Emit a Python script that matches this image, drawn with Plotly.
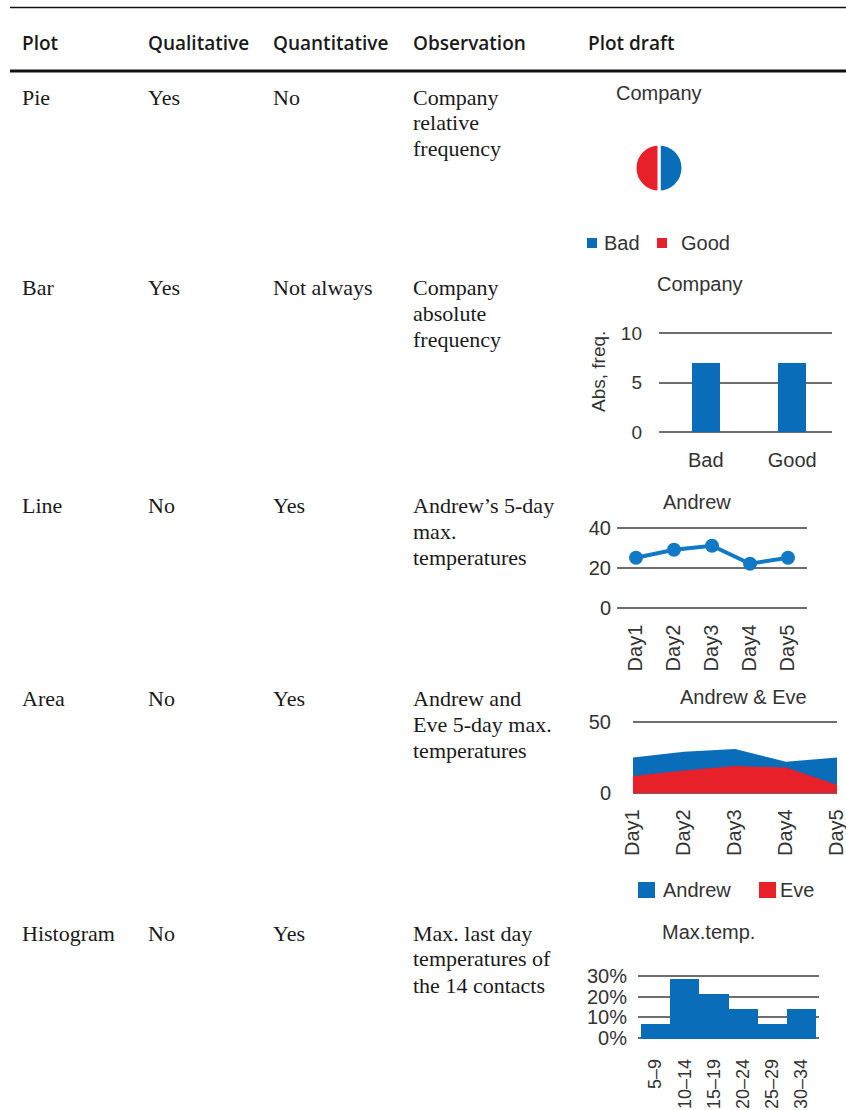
import plotly.graph_objects as go

# ---------------- data ----------------
header = ["Plot", "Qualitative", "Quantitative", "Observation", "Plot draft"]
plot_names = ["Pie", "Bar", "Line", "Area", "Histogram"]
qualitative = ["Yes", "Yes", "No", "No", "No"]
quantitative = ["No", "Not always", "Yes", "Yes", "Yes"]
observations = [
    ["Company", "relative", "frequency"],
    ["Company", "absolute", "frequency"],
    ["Andrew’s 5-day", "max.", "temperatures"],
    ["Andrew and", "Eve 5-day max.", "temperatures"],
    ["Max. last day", "temperatures of", "the 14 contacts"],
]

company_cats = ["Bad", "Good"]
company_counts = [7, 7]

days = ["Day1", "Day2", "Day3", "Day4", "Day5"]
andrew_temps = [25, 29, 31, 22, 25]
eve_temps = [12, 16, 19, 18, 6]

hist_bins = ["5–9", "10–14", "15–19", "20–24", "25–29", "30–34"]
hist_pct = [7.1, 28.6, 21.4, 14.3, 7.1, 14.3]
hist_ticks = [0, 10, 20, 30]
hist_ticklabels = ["0%", "10%", "20%", "30%"]

# ---------------- style / layout ----------------
W, H = 846, 1110
BLUE = "#0a6dba"
LBLUE = "#1279c6"
RED = "#e8202a"
GRID = "#6e6e6e"
TXT = "#333333"
SERIF = "Liberation Serif"
SANS = "Liberation Sans"
HEAD = "Open Sans"


def X(p):
    return p / W


def Y(p):
    return 1 - p / H


col_x = [21, 147, 272, 412, 587]
header_y = 43
row_y = [97, 287, 505, 698, 933]
line_gap = 26

annotations = []
shapes = []


def text(x, y, s, size, family, color="#1a1a1a", anchor="left", weight=None, angle=0):
    f = dict(size=size, family=family, color=color)
    if weight:
        f["weight"] = weight
    annotations.append(dict(
        x=X(x), y=Y(y), xref="paper", yref="paper", text=s, showarrow=False,
        xanchor=anchor, yanchor="middle", font=f, textangle=angle, borderpad=0,
    ))


# table rules
shapes.append(dict(type="line", xref="paper", yref="paper", x0=X(10), x1=1, y0=Y(7.5), y1=Y(7.5),
                   line=dict(color="#111", width=1.5)))
shapes.append(dict(type="line", xref="paper", yref="paper", x0=X(10), x1=1, y0=Y(71), y1=Y(71),
                   line=dict(color="#111", width=3)))

# header
for cx, h in zip(col_x, header):
    text(cx, header_y, h, 19, HEAD, "#1a1a1a", weight=600)

# body
for i in range(5):
    ry = row_y[i]
    text(col_x[0], ry, plot_names[i], 22, SERIF)
    text(col_x[1], ry, qualitative[i], 22, SERIF)
    text(col_x[2], ry, quantitative[i], 22, SERIF)
    for k, ln in enumerate(observations[i]):
        text(col_x[3], ry + k * line_gap, ln, 22, SERIF)

# chart titles
text(659, 93, "Company", 20, SANS, TXT, anchor="center")
text(700, 284, "Company", 20, SANS, TXT, anchor="center")
text(697, 502, "Andrew", 20, SANS, TXT, anchor="center")
text(743, 697, "Andrew &amp; Eve", 20, SANS, TXT, anchor="center")
text(708, 932, "Max.temp.", 20, SANS, TXT, anchor="center")
text(598, 372, "Abs, freq.", 19, SANS, TXT, anchor="center", angle=-90)


# manual legends
def swatch(x0, y0, x1, y1, color):
    shapes.append(dict(type="rect", xref="paper", yref="paper", x0=X(x0), x1=X(x1), y0=Y(y1), y1=Y(y0),
                       fillcolor=color, line=dict(width=0)))


swatch(587, 238, 597, 248, BLUE)
text(603, 243, company_cats[0], 20, SANS, TXT)
swatch(657, 238, 667, 248, RED)
text(680, 243, company_cats[1], 20, SANS, TXT)

swatch(638, 882, 655, 898, BLUE)
text(662, 890, "Andrew", 20, SANS, TXT)
swatch(759, 882, 776, 898, RED)
text(779, 890, "Eve", 20, SANS, TXT)

fig = go.Figure()

# Pie
fig.add_trace(go.Pie(
    labels=company_cats, values=company_counts, sort=False, direction="clockwise",
    marker=dict(colors=[BLUE, RED], line=dict(color="white", width=3)),
    textinfo="none", showlegend=False, hoverinfo="skip", automargin=False,
    domain=dict(x=[X(635), X(683)], y=[Y(192), Y(144)]),
))

# Bar
fig.add_trace(go.Bar(x=company_cats, y=company_counts, xaxis="x2", yaxis="y2",
                     marker=dict(color=BLUE, line=dict(width=0)), width=0.32, showlegend=False))

# Line
fig.add_trace(go.Scatter(x=days, y=andrew_temps, xaxis="x3", yaxis="y3", mode="lines+markers",
                         line=dict(color=LBLUE, width=4), marker=dict(size=14, color=LBLUE),
                         showlegend=False))

# Area
fig.add_trace(go.Scatter(x=days, y=andrew_temps, xaxis="x4", yaxis="y4", mode="none",
                         fill="tozeroy", fillcolor=BLUE, showlegend=False))
fig.add_trace(go.Scatter(x=days, y=eve_temps, xaxis="x4", yaxis="y4", mode="none",
                         fill="tozeroy", fillcolor=RED, showlegend=False))

# Histogram
fig.add_trace(go.Bar(x=hist_bins, y=hist_pct, xaxis="x5", yaxis="y5", width=1,
                     marker=dict(color=BLUE, line=dict(width=0)), showlegend=False))

PAD = 3  # px of padding so edge gridlines are not clipped


def yax(px_top, px_bot, vmin, vmax, tickvals, anchor, standoff, size=20, ticktext=None):
    ppu = (px_bot - px_top) / (vmax - vmin)
    rng = [vmin - PAD / ppu, vmax + PAD / ppu]
    dom = [Y(px_bot + PAD), Y(px_top - PAD)]
    d = dict(domain=dom, range=rng, tickmode="array", tickvals=tickvals, anchor=anchor,
             showgrid=True, gridcolor=GRID, gridwidth=1.5, zeroline=False, showline=False,
             ticks="", tickfont=dict(family=SANS, size=size, color=TXT),
             ticklabelstandoff=standoff, fixedrange=True, automargin=False)
    if ticktext is not None:
        d["ticktext"] = ticktext
    return d


def xax(dom, rng, anchor, standoff, angle=0, size=20):
    return dict(domain=[X(dom[0]), X(dom[1])], range=rng, anchor=anchor, type="category",
                showgrid=False, zeroline=False, showline=False, ticks="",
                tickfont=dict(family=SANS, size=size, color=TXT), tickangle=angle,
                ticklabelstandoff=standoff, fixedrange=True, automargin=False)


fig.update_layout(
    width=W, height=H, margin=dict(l=0, r=0, t=0, b=0, pad=0, autoexpand=False),
    paper_bgcolor="white", plot_bgcolor="white",
    xaxis2=xax((659, 832), [-0.54, 1.46], "y2", 14 - PAD),
    yaxis2=yax(333, 432, 0, 10, [0, 5, 10], "x2", 16, size=19),
    xaxis3=xax((617, 807), [-0.5, 4.5], "y3", 12 - PAD, angle=-90),
    yaxis3=yax(527.7, 607.7, 0, 40, [0, 20, 40], "x3", 5),
    xaxis4=xax((633, 837), [0, 4], "y4", 11 - PAD, angle=-90),
    yaxis4=yax(721.7, 793.3, 0, 50, [0, 50], "x4", 21),
    xaxis5=xax((638, 819), [-0.6, 5.6], "y5", 16 - PAD, angle=-90, size=18),
    yaxis5=yax(975.7, 1038.3, 0, 30, hist_ticks, "x5", 10, ticktext=hist_ticklabels),
    bargap=0,
    annotations=annotations, shapes=shapes,
)

fig.write_html("out.html")
